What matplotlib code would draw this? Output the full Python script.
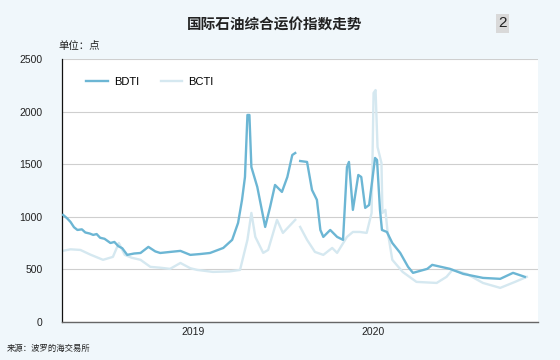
import numpy as np
import pandas as pd
import matplotlib
matplotlib.use("Agg")
import matplotlib.pyplot as plt
import matplotlib.dates as mdates

plt.rcParams["font.family"] = ["Liberation Sans", "Noto Sans CJK SC", "DejaVu Sans"]

# ---- data ----
BDTI_DATES = ["2018-04-12", "2018-04-20", "2018-04-27", "2018-05-04", "2018-05-11",
              "2018-05-20", "2018-05-27", "2018-06-05", "2018-06-12", "2018-06-19",
              "2018-06-26", "2018-07-05", "2018-07-17", "2018-07-25", "2018-08-02",
              "2018-08-10", "2018-08-20", "2018-09-03", "2018-09-16", "2018-10-02",
              "2018-10-16", "2018-10-26", "2018-11-15", "2018-12-06", "2018-12-26",
              "2019-01-15", "2019-02-04", "2019-03-03", "2019-03-21", "2019-04-02",
              "2019-04-10", "2019-04-16", "2019-04-21", "2019-04-25", "2019-04-29",
              "2019-05-11", "2019-05-27", "2019-06-06", "2019-06-16", "2019-06-30",
              "2019-07-11", "2019-07-21", "2019-07-27", "2019-08-01",
              "2019-08-06", "2019-08-20", "2019-08-30", "2019-09-09", "2019-09-16",
              "2019-09-22", "2019-10-06", "2019-10-20", "2019-11-01", "2019-11-09",
              "2019-11-13", "2019-11-21", "2019-12-02", "2019-12-08", "2019-12-16",
              "2019-12-24", "2020-01-05", "2020-01-09", "2020-01-15", "2020-01-19",
              "2020-01-29", "2020-02-09", "2020-02-25", "2020-03-12", "2020-03-22",
              "2020-04-20", "2020-04-30", "2020-06-05", "2020-07-02", "2020-08-11",
              "2020-09-15", "2020-10-11", "2020-11-04"]
BDTI = [1017, 985, 950, 900, 874,
        880, 850, 840, 827, 835,
        800, 790, 750, 760, 720,
        700, 637, 650, 655, 713,
        670, 655, 665, 675, 637,
        645, 655, 703, 780, 941,
        1160, 1378, 1968, 1968, 1473,
        1283, 903, 1093, 1302, 1236,
        1378, 1587, 1606, np.nan,
        1530, 1521, 1255, 1160, 874,
        808, 874, 808, 780, 1473,
        1521, 1065, 1397, 1378, 1084,
        1112, 1559, 1540, 1065, 874,
        855, 750, 656, 523, 466,
        504, 542, 504, 456, 418,
        409, 466, 428]

BCTI_DATES = ["2018-04-11", "2018-04-27", "2018-05-17", "2018-06-06", "2018-07-02",
              "2018-07-22", "2018-08-03", "2018-08-15", "2018-08-29", "2018-09-16",
              "2018-10-06", "2018-10-26", "2018-11-15", "2018-12-06", "2018-12-26",
              "2019-01-09", "2019-02-10", "2019-03-16", "2019-04-06", "2019-04-21",
              "2019-04-29", "2019-05-07", "2019-05-23", "2019-06-02", "2019-06-20",
              "2019-07-02", "2019-07-27", "2019-08-01",
              "2019-08-06", "2019-08-20", "2019-09-05",
              "2019-09-22", "2019-10-10", "2019-10-20", "2019-11-09", "2019-11-21",
              "2019-12-05", "2019-12-19", "2019-12-29", "2020-01-02", "2020-01-06",
              "2020-01-10", "2020-01-18", "2020-01-20", "2020-01-26", "2020-01-30",
              "2020-02-09", "2020-03-01", "2020-03-29", "2020-05-09", "2020-05-29",
              "2020-06-10", "2020-07-09", "2020-08-11", "2020-09-15", "2020-10-15",
              "2020-11-08"]
BCTI = [675, 690, 684, 640, 590,
        618, 750, 637, 610, 590,
        523, 515, 504, 560, 510,
        494, 475, 480, 494, 780,
        1036, 808, 656, 684, 970,
        846, 970, np.nan,
        903, 780, 665,
        637, 703, 656, 808, 855,
        855, 846, 1036, 2177, 2205,
        1663, 1511, 1036, 1065, 874,
        590, 475, 380, 370, 428,
        494, 456, 370, 323, 380,
        428]

BDTI_COLOR = "#6cb6d4"
BCTI_COLOR = "#d5e8f0"
BG = "#f0f7fb"

fig = plt.figure(figsize=(5.6, 3.6), dpi=100, facecolor=BG)
ax = fig.add_axes([0.111, 0.106, 0.850, 0.730])
ax.set_facecolor("white")

ax.plot(pd.to_datetime(BCTI_DATES), BCTI, color=BCTI_COLOR, lw=1.7, label="BCTI", zorder=2)
ax.plot(pd.to_datetime(BDTI_DATES), BDTI, color=BDTI_COLOR, lw=1.7, label="BDTI", zorder=3)

ax.set_ylim(0, 2500)
ax.set_yticks(range(0, 2501, 500))
ax.set_xlim(pd.Timestamp("2018-04-10"), pd.Timestamp("2020-12-01"))
ax.xaxis.set_major_locator(mdates.YearLocator())
ax.xaxis.set_major_formatter(mdates.DateFormatter("%Y"))
ax.grid(axis="y", color="#cfcfcf", lw=0.8)
ax.set_axisbelow(True)
ax.tick_params(length=0, labelsize=7.5, colors="#222222")
ax.tick_params(axis="y", pad=14)
ax.tick_params(axis="x", pad=4)
for s in ["top", "right"]:
    ax.spines[s].set_visible(False)
ax.spines["left"].set_color("#111111")
ax.spines["left"].set_linewidth(0.9)
ax.spines["bottom"].set_color("#666666")
ax.spines["bottom"].set_linewidth(1.0)

h, l = ax.get_legend_handles_labels()
ax.legend(h[::-1], l[::-1], loc="upper left", bbox_to_anchor=(0.03, 0.97), ncol=2,
          frameon=False, fontsize=8, handlelength=1.9, handletextpad=0.55,
          columnspacing=2.0)

fig.text(0.49, 0.93, "国际石油综合运价指数走势", ha="center", va="center",
         fontsize=10.5, fontweight="bold", color="#222222")
fig.text(0.104, 0.873, "单位：点", ha="left", va="center", fontsize=7.5, color="#222222")
fig.text(0.0125, 0.03, "来源：波罗的海交易所", ha="left", va="center", fontsize=6, color="#222222")
fig.text(0.897, 0.935, "2", ha="center", va="center", fontsize=11, color="#222222",
         bbox=dict(boxstyle="square,pad=0.15", facecolor="#d9d9d9", edgecolor="none"))

plt.savefig("out.png", dpi=100, facecolor=BG)
